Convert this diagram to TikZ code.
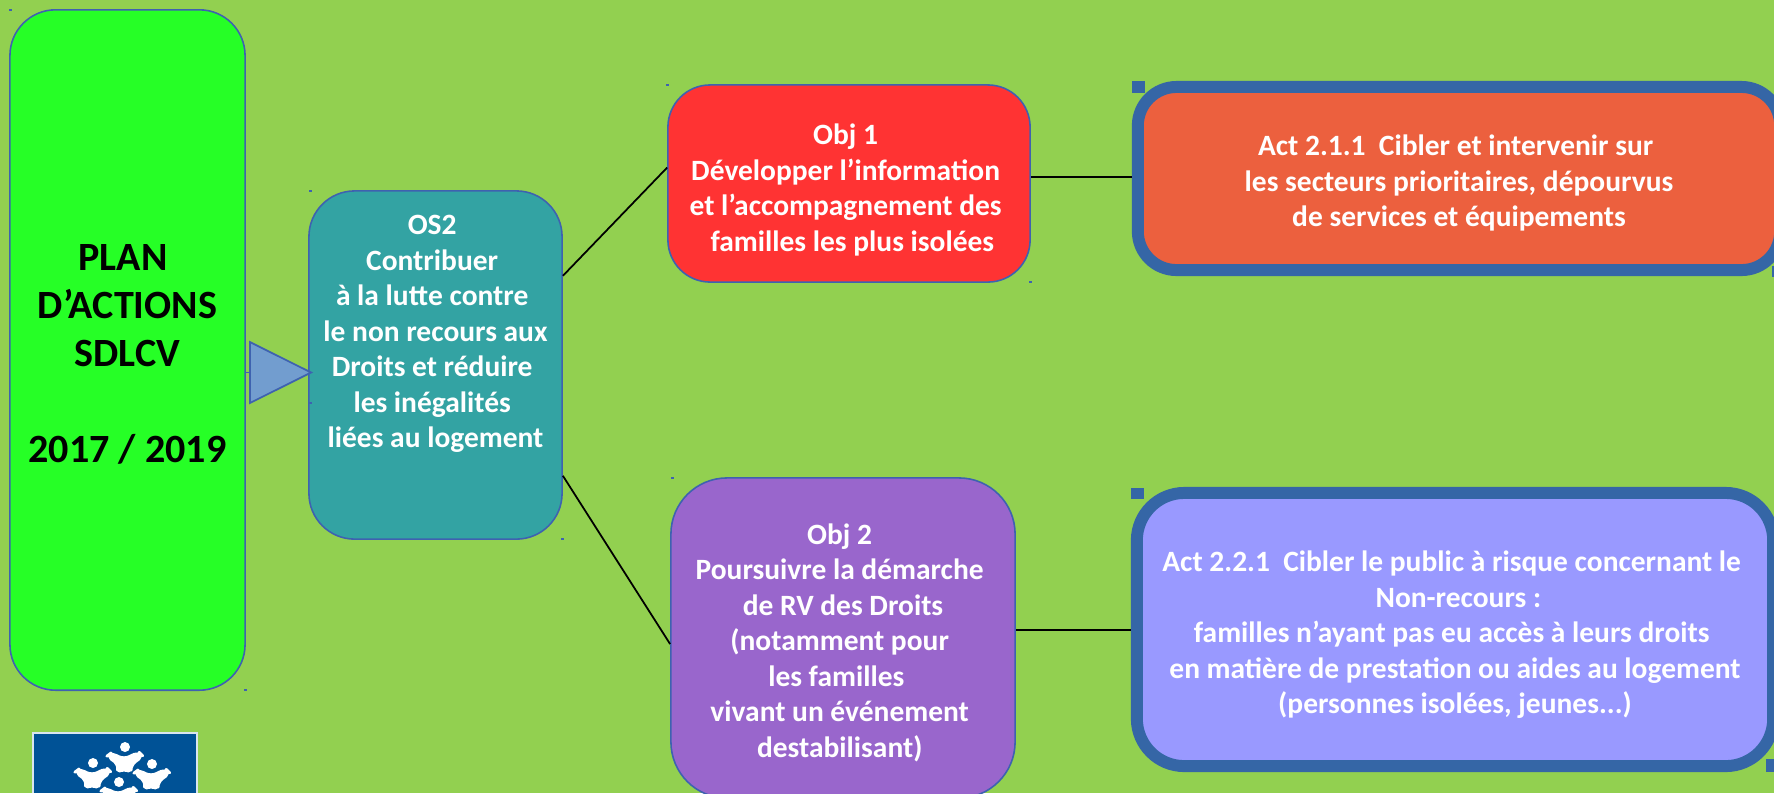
\documentclass[tikz,border=0pt]{standalone}
\usepackage{fontspec}
\setmainfont{Carlito}
\newfontfamily\liee{Carlito}[Ligatures=Rare]
\usepackage{xcolor}
\usepackage{tikz}
\usetikzlibrary{shapes.geometric}
\definecolor{fondvert}{RGB}{146,208,80}
\definecolor{vertvif}{RGB}{38,255,38}
\definecolor{sarcelle}{RGB}{51,163,163}
\definecolor{rouge}{RGB}{255,51,51}
\definecolor{violet}{RGB}{153,102,204}
\definecolor{orange}{RGB}{236,96,62}
\definecolor{lilas}{RGB}{153,153,255}
\definecolor{bleutrait}{RGB}{62,98,176}
\definecolor{bleucadre}{RGB}{53,102,166}
\definecolor{bleufleche}{RGB}{114,157,207}
\definecolor{bleulogo}{RGB}{0,82,150}
\newcommand{\esp}{\kern 1.9pt}
\newcommand{\haut}[1]{\rule{0pt}{#1}}
\tikzset{
    boite/.style = {draw = bleutrait, line width = 0.45pt, rounded corners = 13pt, align = center,
        text = white, font = \fontsize{8.38}{10.1}\selectfont\bfseries, inner sep = 0pt},
    cadre/.style = {boite, draw = bleucadre, line width = 3.4pt},
    lien/.style = {black, line width = 0.5pt}
}
\begin{document}
\begin{tikzpicture}[x = 0.01cm, y = -0.01cm]
    \useasboundingbox[fill = fondvert] (0, 0) rectangle (1774, 793);

    \node[boite, fill = vertvif, text = black, font = \fontsize{11.4}{13.66}\selectfont\bfseries,
        minimum width = 2.35cm, minimum height = 6.8cm] (plan) at (127.5, 350)
        {\haut{10pt}PLAN\kern 2.6pt\\D’ACTIONS\\SDLCV\\[13.66pt]2017 / 2019};
    \node[boite, fill = sarcelle, minimum width = 2.53cm, minimum height = 3.48cm] (os) at (435.5, 365)
        {OS2\esp\\Contribuer\esp\\à la lu{\liee tt}e contre\esp\\le non recours aux\\Droits et réduire\esp\\les inégalités\esp\\liées au logement\\[9pt]};
    \node[boite, rounded corners = 12pt, fill = rouge, minimum width = 3.62cm, minimum height = 1.97cm] (obj1) at (849, 183.5)
        {\haut{9.6pt}Obj 1\esp\\Développer l’informa{\liee ti}on\esp\\et l’accompagnement des\esp\\\esp familles les plus isolées};
    \node[boite, rounded corners = 16pt, fill = violet, minimum width = 3.44cm, minimum height = 3.2cm] (obj2) at (843, 638)
        {\haut{8.5pt}Obj 2\esp\\Poursuivre la démarche\esp\\de RV des Droits\\(notamment pour\esp\\les familles\esp\esp\\vivant un événement\esp\\destabilisant)\esp};
    \node[cadre, rounded corners = 11pt, fill = orange, minimum width = 6.42cm, minimum height = 1.83cm] (act1) at (1459, 178.5)
        {\haut{8.5pt}Act 2.1.1\ \ Cibler et intervenir sur\esp\\les secteurs prioritaires, dépourvus\\de services et équipements};
    \node[cadre, rounded corners = 13.5pt, fill = lilas, minimum width = 6.36cm, minimum height = 2.73cm] (act2) at (1455, 629.5)
        {\haut{9pt}Act 2.2.1\ \ Cibler le public à risque concernant le\esp\\\esp Non-recours :\\familles n’ayant pas eu accès à leurs droits\esp\\en matière de presta{\liee ti}on ou aides au logement\\(personnes isolées, jeunes...)};

    % fleche
    \node[draw = bleutrait, fill = bleufleche, line width = 0.5pt, isosceles triangle, isosceles triangle apex angle = 53,
        inner sep = 0pt, minimum height = 0.61cm, minimum width = 0.61cm, anchor = west] (fleche) at (249, 372.5) {};
    \draw[bleutrait, line width = 0.5pt] (plan.east |- fleche.west) -- (fleche.west);

    \draw[lien] (os.35.7) -- (obj1.175.5);
    \draw[lien] (os.-41.8) -- (obj2.182.8);
    \draw[lien] (obj1.east |- 0, 176.7) -- (act1.west |- 0, 176.7);
    \draw[lien] (obj2.east |- 0, 630) -- (act2.west |- 0, 630);

    % reperes
    \foreach \x/\y in {10/10, 245/690, 310/191, 310/403, 562/539, 667/85, 1030/282, 672/478} {
        \fill[bleutrait] (\x - 1.5, \y - 1) rectangle (\x + 1.5, \y + 1);
    }
    \fill[bleucadre] (1132, 81) rectangle (1145, 93);
    \fill[bleucadre] (1131, 488) rectangle (1144, 499);
    \fill[bleucadre] (1766, 759) rectangle (1774, 772);
    \fill[bleucadre] (1772, 266) rectangle (1774, 277);

    % logo
    \fill[white!85!bleulogo] (32, 732) rectangle (198, 793);
    \fill[bleulogo] (34, 734) rectangle (196, 793);
    \foreach \x/\y in {125/747, 93/763, 152/764, 119/782} {
        \fill[white] (\x, \y) circle (5);
        \filldraw[white, line width = 0.8pt, line join = round, rounded corners = 1.5pt] (\x - 18, \y + 9) -- (\x - 14, \y + 6) -- (\x - 1, \y + 12)
            -- (\x + 14, \y + 5) -- (\x + 18, \y + 9) -- (\x + 6, \y + 18) -- (\x + 6, \y + 25)
            -- (\x - 1, \y + 22) -- (\x - 8, \y + 25) -- (\x - 6, \y + 18) -- cycle;
    }
\end{tikzpicture}
\end{document}
